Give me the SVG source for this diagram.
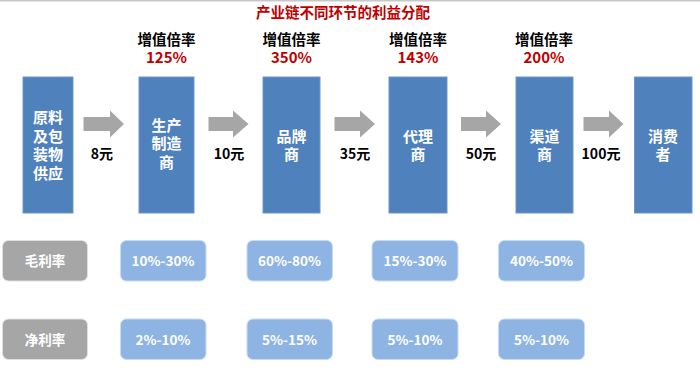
<svg xmlns="http://www.w3.org/2000/svg" width="700" height="370" viewBox="0 0 700 370">
<style>
text{font-family:"Noto Sans CJK SC","Liberation Sans",sans-serif;font-weight:bold;text-anchor:middle}
.box{fill:#4F81BD;stroke:#6C95C8;stroke-width:1}
.bt{fill:#fff;font-size:15px}
.hd{fill:#000;font-size:14.5px}
.pc{fill:#C00000;font-size:15px}
.pr{fill:#000;font-size:14px}
.arr{fill:#A6A6A6}
.g{fill:#A6A6A6;stroke:#E0E0E0;stroke-width:1}
.lb{fill:#8EB4E3;stroke:#C9DBF1;stroke-width:1}
.st{fill:#fff;font-size:13.5px}
</style>
<rect x="0" y="0" width="700" height="370" fill="#fff"/>
<rect x="0" y="0" width="700" height="1.5" fill="#C8C8C8"/>
<text x="343" y="18" fill="#C00000" font-size="14.5px">产业链不同环节的利益分配</text>

<g id="n1"><rect class="box" x="23" y="77" width="50" height="136"/>
<text class="bt" x="48" y="123">原料</text><text class="bt" x="48" y="141.5">及包</text><text class="bt" x="48" y="160">装物</text><text class="bt" x="48" y="178.5">供应</text></g>

<g id="n2"><text class="hd" x="166.5" y="44.5">增值倍率</text><text class="pc" x="166.5" y="62.5">125%</text>
<rect class="box" x="139" y="77" width="55" height="136"/>
<text class="bt" x="166.5" y="130.5">生产</text><text class="bt" x="166.5" y="149">制造</text><text class="bt" x="166.5" y="167.5">商</text></g>

<g id="n3"><text class="hd" x="291.5" y="44.5">增值倍率</text><text class="pc" x="291.5" y="62.5">350%</text>
<rect class="box" x="263" y="77" width="57" height="136"/>
<text class="bt" x="291.5" y="141.5">品牌</text><text class="bt" x="291.5" y="160">商</text></g>

<g id="n4"><text class="hd" x="418" y="44.5">增值倍率</text><text class="pc" x="418" y="62.5">143%</text>
<rect class="box" x="389" y="77" width="58" height="136"/>
<text class="bt" x="418" y="141.5">代理</text><text class="bt" x="418" y="160">商</text></g>

<g id="n5"><text class="hd" x="544" y="44.5">增值倍率</text><text class="pc" x="544" y="62.5">200%</text>
<rect class="box" x="516" y="77" width="57" height="136"/>
<text class="bt" x="544.5" y="141.5">渠道</text><text class="bt" x="544.5" y="160">商</text></g>

<g id="n6"><rect class="box" x="634.5" y="77" width="57.5" height="136"/>
<text class="bt" x="663" y="141.5">消费</text><text class="bt" x="663" y="160">者</text></g>

<g id="connectors">
<path class="arr" d="M83.5,117H110V110.5L124,124L110,137.5V131H83.5Z"/>
<path class="arr" d="M208.5,117H233V110.5L248.5,124L233,137.5V131H208.5Z"/>
<path class="arr" d="M334.5,117H360V110.5L375,124L360,137.5V131H334.5Z"/>
<path class="arr" d="M461,117H486V110.5L501,124L486,137.5V131H461Z"/>
<path class="arr" d="M583.5,117H609V110.5L623.5,124L609,137.5V131H583.5Z"/>
<text class="pr" x="102" y="159">8元</text>
<text class="pr" x="229" y="159">10元</text>
<text class="pr" x="355" y="159">35元</text>
<text class="pr" x="481" y="159">50元</text>
<text class="pr" x="601" y="159">100元</text>
</g>

<g id="r1"><rect class="g" x="2.5" y="240.5" width="85" height="40.5" rx="6"/><text class="st" x="45" y="266">毛利率</text></g>
<g id="r1c2"><rect class="lb" x="120.5" y="240.5" width="85.5" height="40.5" rx="6"/><text class="st" x="163" y="266">10%-30%</text></g>
<g id="r1c3"><rect class="lb" x="247" y="240.5" width="85.5" height="40.5" rx="6"/><text class="st" x="289.5" y="266">60%-80%</text></g>
<g id="r1c4"><rect class="lb" x="372" y="240.5" width="86" height="40.5" rx="6"/><text class="st" x="415" y="266">15%-30%</text></g>
<g id="r1c5"><rect class="lb" x="498.5" y="240.5" width="86" height="40.5" rx="6"/><text class="st" x="541.5" y="266">40%-50%</text></g>

<g id="r2"><rect class="g" x="2.5" y="319" width="85" height="40.5" rx="6"/><text class="st" x="45" y="344.5">净利率</text></g>
<g id="r2c2"><rect class="lb" x="120.5" y="319" width="85.5" height="40.5" rx="6"/><text class="st" x="163" y="344.5">2%-10%</text></g>
<g id="r2c3"><rect class="lb" x="247" y="319" width="85.5" height="40.5" rx="6"/><text class="st" x="289.5" y="344.5">5%-15%</text></g>
<g id="r2c4"><rect class="lb" x="372" y="319" width="86" height="40.5" rx="6"/><text class="st" x="415" y="344.5">5%-10%</text></g>
<g id="r2c5"><rect class="lb" x="498.5" y="319" width="86" height="40.5" rx="6"/><text class="st" x="541.5" y="344.5">5%-10%</text></g>
</svg>
